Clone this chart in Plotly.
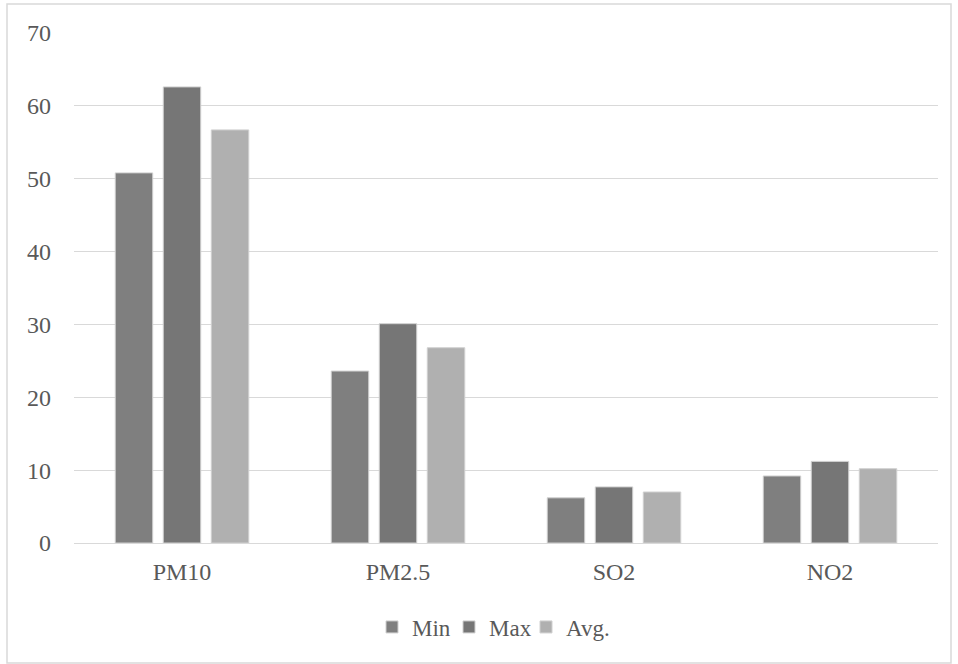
import plotly.graph_objects as go

categories = ["PM10", "PM2.5", "SO2", "NO2"]
min_vals = [50.8, 23.6, 6.2, 9.2]
max_vals = [62.6, 30.1, 7.7, 11.2]
avg_vals = [56.7, 26.8, 7.0, 10.2]
y_ticks = [0, 10, 20, 30, 40, 50, 60, 70]

font_family = "Liberation Serif"
text_color = "#595959"

fig = go.Figure()
for name, vals, col in [("Min", min_vals, "#7f7f7f"),
                        ("Max", max_vals, "#767676"),
                        ("Avg.", avg_vals, "#b0b0b0")]:
    fig.add_trace(go.Bar(
        name=name, x=categories, y=vals,
        marker=dict(color=col, line=dict(color="#d0d0d0", width=1)),
    ))

W, H = 958, 664
L, R, T, B = 74, 20, 33, 121
pw, ph = W - L - R, H - T - B

def px_x(p):
    return (p - L) / pw

def px_y(p):
    return (H - B - p) / ph

fig.update_layout(
    width=W, height=H,
    margin=dict(l=L, r=R, t=T, b=B),
    paper_bgcolor="white", plot_bgcolor="white",
    barmode="group", bargap=0.333, bargroupgap=0.22,
    font=dict(family=font_family, size=24, color=text_color),
    showlegend=True,
    legend=dict(orientation="h", x=px_x(372), xanchor="left", y=px_y(627), yanchor="middle",
                font=dict(size=23, color=text_color), itemwidth=30, traceorder="normal",
                entrywidth=32, entrywidthmode="pixels"),
    xaxis=dict(showgrid=False, showline=False, ticks="", ticklabelstandoff=12,
               tickfont=dict(size=24, color=text_color)),
    yaxis=dict(range=[0, 70], tickvals=y_ticks, showgrid=True, gridcolor="#d9d9d9",
               gridwidth=1, zeroline=True, zerolinecolor="#d9d9d9", zerolinewidth=1,
               showline=False, ticks="", ticklabelstandoff=22,
               tickfont=dict(size=24, color=text_color)),
    shapes=[dict(type="rect", xref="paper", yref="paper",
                 x0=px_x(7), x1=px_x(951), y0=px_y(663), y1=px_y(4),
                 line=dict(color="#d9d9d9", width=1.5), fillcolor="rgba(0,0,0,0)",
                 layer="below")],
)

post = (
    "document.body.style.margin='0';"
    "document.querySelectorAll('.legend [clip-path]').forEach(function(e){e.removeAttribute('clip-path');});"
)
fig.write_html("out.html", config={"displayModeBar": False}, post_script=post)
